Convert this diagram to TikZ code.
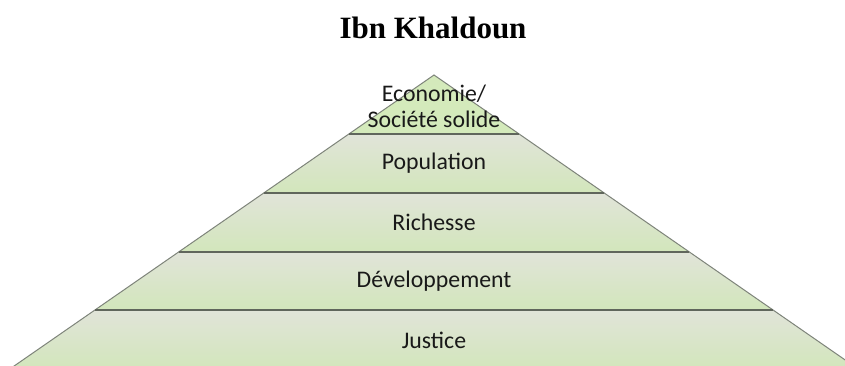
\documentclass[tikz,border=0pt]{standalone}
\usepackage{fontspec}
\setmainfont{Liberation Serif}
\newfontfamily\labelfont{Carlito}
\begin{document}
\begin{tikzpicture}[x=1pt,y=-1pt]
\definecolor{laytop}{HTML}{E1E4D9}
\definecolor{laybot}{HTML}{D2E6BB}
\definecolor{apexcol}{HTML}{D4EABB}
\definecolor{edgecol}{HTML}{7E847A}
\definecolor{sepcol}{HTML}{60665C}
\tikzset{
  layer/.style={top color=laytop, bottom color=laybot, draw=none},
  apexlayer/.style={top color=apexcol!85!laybot, bottom color=apexcol, draw=none},
  sep/.style={draw=sepcol, line width=1.4pt},
  edge/.style={draw=edgecol, line width=1pt},
  lbl/.style={font=\labelfont\fontsize{23.8}{26}\selectfont, text=black!90, align=center, inner sep=0pt},
  ttl/.style={font=\bfseries\fontsize{31}{36}\selectfont, inner sep=0pt}
}
\useasboundingbox (0,0) rectangle (845,365);
\clip (0,0) rectangle (845,365);
\fill[white] (0,0) rectangle (845,365);
% apex and layer boundaries (k = 1.443 px per px)
\coordinate (A) at (434,75);
\coordinate (L1) at (348.9,134);  \coordinate (R1) at (519.1,134);
\coordinate (L2) at (263.8,193);  \coordinate (R2) at (604.2,193);
\coordinate (L3) at (178.6,252);  \coordinate (R3) at (689.4,252);
\coordinate (L4) at (94.9,310);   \coordinate (R4) at (773.1,310);
\coordinate (L5) at (9.8,369);    \coordinate (R5) at (858.2,369);
% layers
\path[apexlayer] (A) -- (R1) -- (L1) -- cycle;
\path[layer] (L1) -- (R1) -- (R2) -- (L2) -- cycle;
\path[layer] (L2) -- (R2) -- (R3) -- (L3) -- cycle;
\path[layer] (L3) -- (R3) -- (R4) -- (L4) -- cycle;
\path[layer] (L4) -- (R4) -- (R5) -- (L5) -- cycle;
% outline
\draw[edge] (L5) -- (A) -- (R5);
\draw[sep] (L1) -- (R1);
\draw[sep] (L2) -- (R2);
\draw[sep] (L3) -- (R3);
\draw[sep] (L4) -- (R4);
% title
\node[ttl, anchor=base] (title) at (433,38) {Ibn Khaldoun};
% labels
\node[lbl] (eco) at (434,106) {Economie/\\Société solide};
\node[lbl] (pop) at (434,163) {Population};
\node[lbl] (ric) at (434,222) {Richesse};
\node[lbl] (dev) at (434,281) {Développement};
\node[lbl] (jus) at (434,340) {Justice};
\end{tikzpicture}
\end{document}
